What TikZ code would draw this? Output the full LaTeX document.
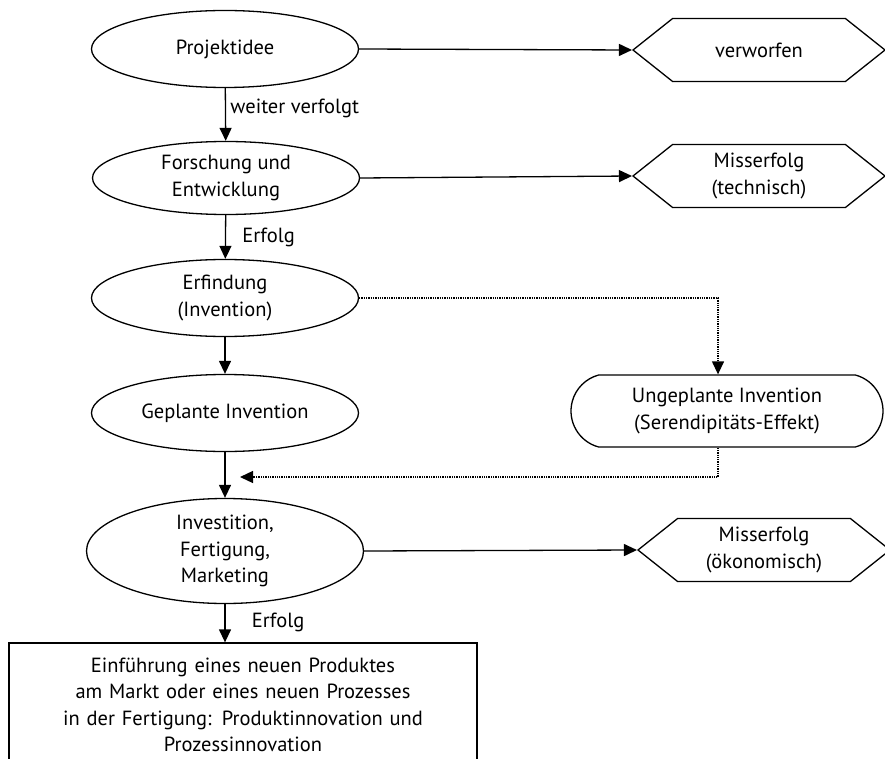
\documentclass[tikz,border=0pt]{standalone}
\usepackage{fontspec}
\setmainfont{PT Sans}
\usetikzlibrary{arrows.meta,shapes.geometric,shapes.misc,shapes.symbols}

\begin{document}
\begin{tikzpicture}[x=1pt,y=-1pt,
    font=\fontsize{20.5}{26.5}\selectfont,
    flow/.style={-{Triangle[length=13pt,width=12pt]},line width=1.3pt},
    chance/.style={densely dotted,-{Triangle[length=13pt,width=12pt]},line width=1.3pt},
    stage/.style={ellipse,draw,line width=1.3pt,minimum width=267pt,minimum height=77pt,
                  align=center,inner sep=0pt},
    outcome/.style={signal,signal to=west and east,signal pointer angle=77,draw,
                    line width=1.3pt,minimum width=252pt,minimum height=63pt,
                    align=center,inner sep=0pt}]
    \clip (0,0) rectangle (885,759);

    % main chain
    \node[stage] (idee) at (225,49) {Projektidee};
    \node[stage,minimum height=73pt] (fue) at (226,178) {Forschung und\\Entwicklung};
    \node[stage] (erf) at (225,298) {Erfindung\\(Invention)};
    \node[stage] (gepl) at (225,413) {Geplante Invention};
    \node[stage,minimum width=277pt,minimum height=105pt] (inv) at (225,551)
        {Investition,\\Fertigung,\\Marketing};
    \node[draw,line width=1.3pt,text width=460pt,inner xsep=4pt,align=center,
          minimum height=124pt] (einf) at (243,705)
        {Einführung eines neuen Produktes\\am Markt oder eines neuen Prozesses\\
         in der Fertigung: Produktinnovation und\\Prozessinnovation};

    % outcomes on the right
    \node[outcome] (verw) at (759,50) {verworfen};
    \node[outcome] (techn) at (759,176) {Misserfolg\\(technisch)};
    \node[outcome] (oekon) at (764,550) {Misserfolg\\(ökonomisch)};
    \node[rounded rectangle,rounded rectangle arc length=150,draw,line width=1.3pt,
          minimum width=312pt,minimum height=72pt,align=center,inner sep=0pt]
        (ungepl) at (727,411) {Ungeplante Invention\\(Serendipitäts-Effekt)};

    \coordinate (join) at (240,477);

    \draw[flow] (idee) -- node[midway,right,xshift=1pt,yshift=6pt] {weiter verfolgt} (fue);
    \draw[flow] (fue) -- node[midway,right,xshift=13pt] {Erfolg} (erf);
    \draw[flow] (erf) -- (gepl);
    \draw[flow] (gepl) -- (inv);
    \draw[flow] (inv.south) -- node[midway,right,xshift=23pt,yshift=1pt] {Erfolg}
        (inv.south |- einf.north);

    \draw[flow] (idee.east) -- (verw.west);
    \draw[flow] (fue.east) -- (techn.west);
    \draw[flow] (inv.east) -- (oekon.west);

    \draw[chance] (erf.east) -| ([xshift=-9pt]ungepl.north);
    \draw[chance] ([xshift=-9pt]ungepl.south) |- (join);
\end{tikzpicture}
\end{document}
